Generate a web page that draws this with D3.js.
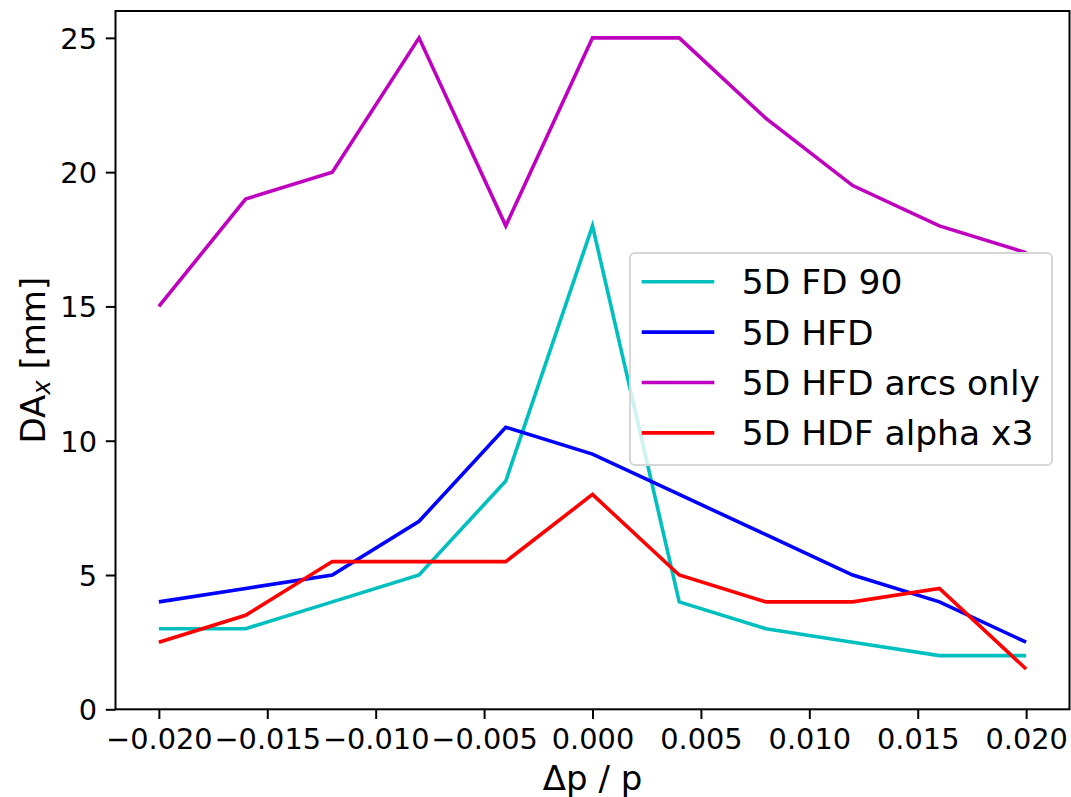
<!DOCTYPE html>
<html>
<head>
<meta charset="utf-8">
<script src="https://cdn.jsdelivr.net/npm/d3@7"></script>
<style>
  html, body { margin: 0; padding: 0; background: #ffffff; }
  svg { display: block; font-family: "DejaVu Sans", sans-serif; }
</style>
</head>
<body>
<svg id="chart" width="1071" height="797"></svg>
<script>
// Relative momentum offsets (Δp / p)
const dpp = [-0.020, -0.016, -0.012, -0.008, -0.004, 0.000, 0.004, 0.008, 0.012, 0.016, 0.020];

// Dynamic aperture in x [mm] for each lattice variant
const fd90      = [3, 3, 4, 5, 8.5, 18, 4, 3, 2.5, 2, 2];
const hfd       = [4, 4.5, 5, 7, 10.5, 9.5, 8, 6.5, 5, 4, 2.5];
const hfdArcs   = [15, 19, 20, 25, 18, 25, 25, 22, 19.5, 18, 17];
const hdfAlpha3 = [2.5, 3.5, 5.5, 5.5, 5.5, 8, 5, 4, 4, 4.5, 1.5];

const seriesNames  = ["5D FD 90", "5D HFD", "5D HFD arcs only", "5D HDF alpha x3"];
const seriesColors = ["#00bfbf", "#0000ff", "#bf00bf", "#ff0000"];
const seriesValues = [fd90, hfd, hfdArcs, hdfAlpha3];

const xTicks = [-0.020, -0.015, -0.010, -0.005, 0.000, 0.005, 0.010, 0.015, 0.020];
const yTicks = [0, 5, 10, 15, 20, 25];

// Plot area
const plotLeft = 115.5, plotRight = 1069.5, plotTop = 11, plotBottom = 709.3;

const svg = d3.select("#chart");

const x = d3.scaleLinear().domain([-0.022, 0.022]).range([plotLeft, plotRight]);
const y = d3.scaleLinear().domain([0, 26]).range([plotBottom, plotTop]);

const tickFont = 28.8;

// Data lines
const line = d3.line()
  .x((d, i) => x(dpp[i]))
  .y(d => y(d));

svg.append("g").attr("class", "lines")
  .selectAll("path")
  .data(seriesValues)
  .join("path")
  .attr("d", d => line(d))
  .attr("fill", "none")
  .attr("stroke", (d, i) => seriesColors[i])
  .attr("stroke-width", 3.6)
  .attr("stroke-linejoin", "miter")
  .attr("stroke-linecap", "butt");

// Axes
const xAxis = d3.axisBottom(x)
  .tickValues(xTicks)
  .tickFormat(d3.format(".3f"))
  .tickSizeInner(9.7)
  .tickSizeOuter(0)
  .tickPadding(8);

const yAxis = d3.axisLeft(y)
  .tickValues(yTicks)
  .tickFormat(d3.format("d"))
  .tickSizeInner(9.7)
  .tickSizeOuter(0)
  .tickPadding(8);

const gx = svg.append("g")
  .attr("transform", `translate(0,${plotBottom})`)
  .call(xAxis);
gx.select(".domain").remove();
gx.selectAll(".tick line").attr("stroke", "#000").attr("stroke-width", 2);
gx.selectAll(".tick text")
  .attr("y", 40)
  .attr("dy", null)
  .attr("fill", "#000")
  .style("font-size", tickFont + "px")
  .style("font-family", "DejaVu Sans");

const gy = svg.append("g")
  .attr("transform", `translate(${plotLeft},0)`)
  .call(yAxis);
gy.select(".domain").remove();
gy.selectAll(".tick line").attr("stroke", "#000").attr("stroke-width", 2);
gy.selectAll(".tick text")
  .attr("x", -18.5)
  .attr("dy", "0.36em")
  .attr("fill", "#000")
  .style("font-size", tickFont + "px")
  .style("font-family", "DejaVu Sans");

// Frame around the plot area
svg.append("rect")
  .attr("x", plotLeft)
  .attr("y", plotTop)
  .attr("width", plotRight - plotLeft)
  .attr("height", plotBottom - plotTop)
  .attr("fill", "none")
  .attr("stroke", "#000")
  .attr("stroke-width", 2);

// Axis labels
svg.append("text")
  .attr("x", (plotLeft + plotRight) / 2)
  .attr("y", 790)
  .attr("text-anchor", "middle")
  .style("font-size", "34px")
  .text("Δp / p");

const yl = svg.append("text")
  .attr("transform", `translate(45,${(plotTop + plotBottom) / 2}) rotate(-90)`)
  .attr("text-anchor", "middle")
  .style("font-size", "34px");
yl.append("tspan").text("DA");
yl.append("tspan").attr("baseline-shift", "-22%")
  .style("font-size", "24px").style("font-style", "italic").text("x");
yl.append("tspan").text(" [mm]");

// Legend
const lg = { x: 630, y: 253, w: 422, h: 212, rowY0: 281.7, rowGap: 50.4,
             hx0: 641.7, hx1: 714.3, tx: 741.7 };
const legend = svg.append("g").attr("class", "legend");
legend.append("rect")
  .attr("x", lg.x).attr("y", lg.y)
  .attr("width", lg.w).attr("height", lg.h)
  .attr("rx", 5).attr("ry", 5)
  .attr("fill", "#ffffff").attr("fill-opacity", 0.8)
  .attr("stroke", "#d6d6d6").attr("stroke-width", 2);

const rows = legend.selectAll("g.row")
  .data(seriesNames)
  .join("g")
  .attr("class", "row")
  .attr("transform", (d, i) => `translate(0,${lg.rowY0 + i * lg.rowGap})`);
rows.append("line")
  .attr("x1", lg.hx0).attr("x2", lg.hx1)
  .attr("y1", 0).attr("y2", 0)
  .attr("stroke", (d, i) => seriesColors[i])
  .attr("stroke-width", 3.6);
rows.append("text")
  .attr("x", lg.tx)
  .attr("y", 12.4)
  .style("font-size", "34.5px")
  .attr("fill", "#000")
  .text(d => d);
</script>
</body>
</html>
